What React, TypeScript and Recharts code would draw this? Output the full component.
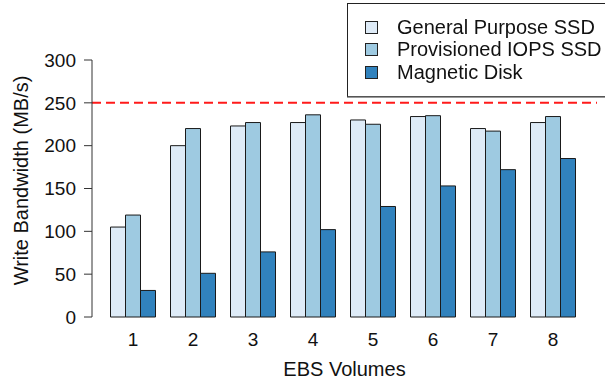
import React from "react";
import {
  BarChart,
  Bar,
  XAxis,
  YAxis,
  ReferenceLine,
  Legend,
} from "recharts";

const volumes = ["1", "2", "3", "4", "5", "6", "7", "8"];
const generalPurpose = [105, 200, 223, 227, 230, 234, 220, 227];
const provisionedIops = [119, 220, 227, 236, 225, 235, 217, 234];
const magneticDisk = [31, 51, 76, 102, 129, 153, 172, 185];
const yTicks = [0, 50, 100, 150, 200, 250, 300];
const bandwidthCap = 250;

const series = [
  { key: "gp", name: "General Purpose SSD", color: "#DEEBF7" },
  { key: "piops", name: "Provisioned IOPS SSD", color: "#9ECAE1" },
  { key: "magnetic", name: "Magnetic Disk", color: "#3182BD" },
];

const data = volumes.map((v, i) => ({
  volume: v,
  gp: generalPurpose[i],
  piops: provisionedIops[i],
  magnetic: magneticDisk[i],
}));

const font = "'Liberation Sans', Arial, Helvetica, sans-serif";

function LegendBox() {
  return (
    <div
      style={{
        width: 262,
        height: 94,
        border: "1px solid #222",
        borderBottomColor: "#555",
        boxShadow: "0 1px 0 #999",
        background: "#fff",
        boxSizing: "border-box",
        paddingTop: 12,
        paddingLeft: 17,
        fontFamily: font,
      }}
    >
      {series.map((s) => (
        <div
          key={s.key}
          style={{ display: "flex", alignItems: "center", height: 22.5 }}
        >
          <span
            style={{
              width: 13,
              height: 13,
              background: s.color,
              border: "1px solid #222",
              boxSizing: "border-box",
              marginRight: 19,
            }}
          />
          <span style={{ fontSize: 20, color: "#111" }}>{s.name}</span>
        </div>
      ))}
    </div>
  );
}

// y title sits a bit above the axis centre, like R's plot region
function YTitle(props: any) {
  const { viewBox } = props;
  const cx = 21;
  const cy = viewBox.y + viewBox.height / 2 - 8;
  return (
    <text
      x={cx}
      y={cy}
      transform={`rotate(-90, ${cx}, ${cy})`}
      textAnchor="middle"
      dominantBaseline="central"
      fontSize={20}
      fill="#111"
    >
      Write Bandwidth (MB/s)
    </text>
  );
}

export default function App() {
  return (
    <div style={{ position: "fixed", left: 0, top: 0, background: "#fff" }}>
      <BarChart
        width={605}
        height={381}
        data={data}
        margin={{ top: 60, right: 8, bottom: 34, left: 0 }}
        barCategoryGap={7.5}
        barGap={0}
        style={{ fontFamily: font }}
      >
        <XAxis
          dataKey="volume"
          axisLine={false}
          tickLine={false}
          tickSize={0}
          tickMargin={16}
          height={30}
          padding={{ left: 11, right: 14 }}
          tick={{ fontSize: 19, fill: "#111" }}
          label={{
            value: "EBS Volumes",
            position: "bottom",
            offset: 15,
            style: { fontSize: 20, fill: "#111" },
          }}
        />
        <YAxis
          width={92}
          domain={[0, 300]}
          ticks={yTicks}
          interval={0}
          stroke="#333"
          tickSize={8}
          tickMargin={8}
          tick={{ fontSize: 19, fill: "#111" }}
          label={<YTitle />}
        />
        <ReferenceLine
          y={bandwidthCap}
          stroke="#FF1A1A"
          strokeWidth={2}
          strokeDasharray="9 5"
        />
        {series.map((s) => (
          <Bar
            key={s.key}
            dataKey={s.key}
            name={s.name}
            fill={s.color}
            stroke="#1a1a1a"
            strokeWidth={1}
            isAnimationActive={false}
          />
        ))}
        <Legend
          layout="horizontal"
          verticalAlign="middle"
          align="center"
          content={() => <LegendBox />}
          wrapperStyle={{ left: 347, top: 3, width: 262, height: 94 }}
        />
      </BarChart>
    </div>
  );
}
